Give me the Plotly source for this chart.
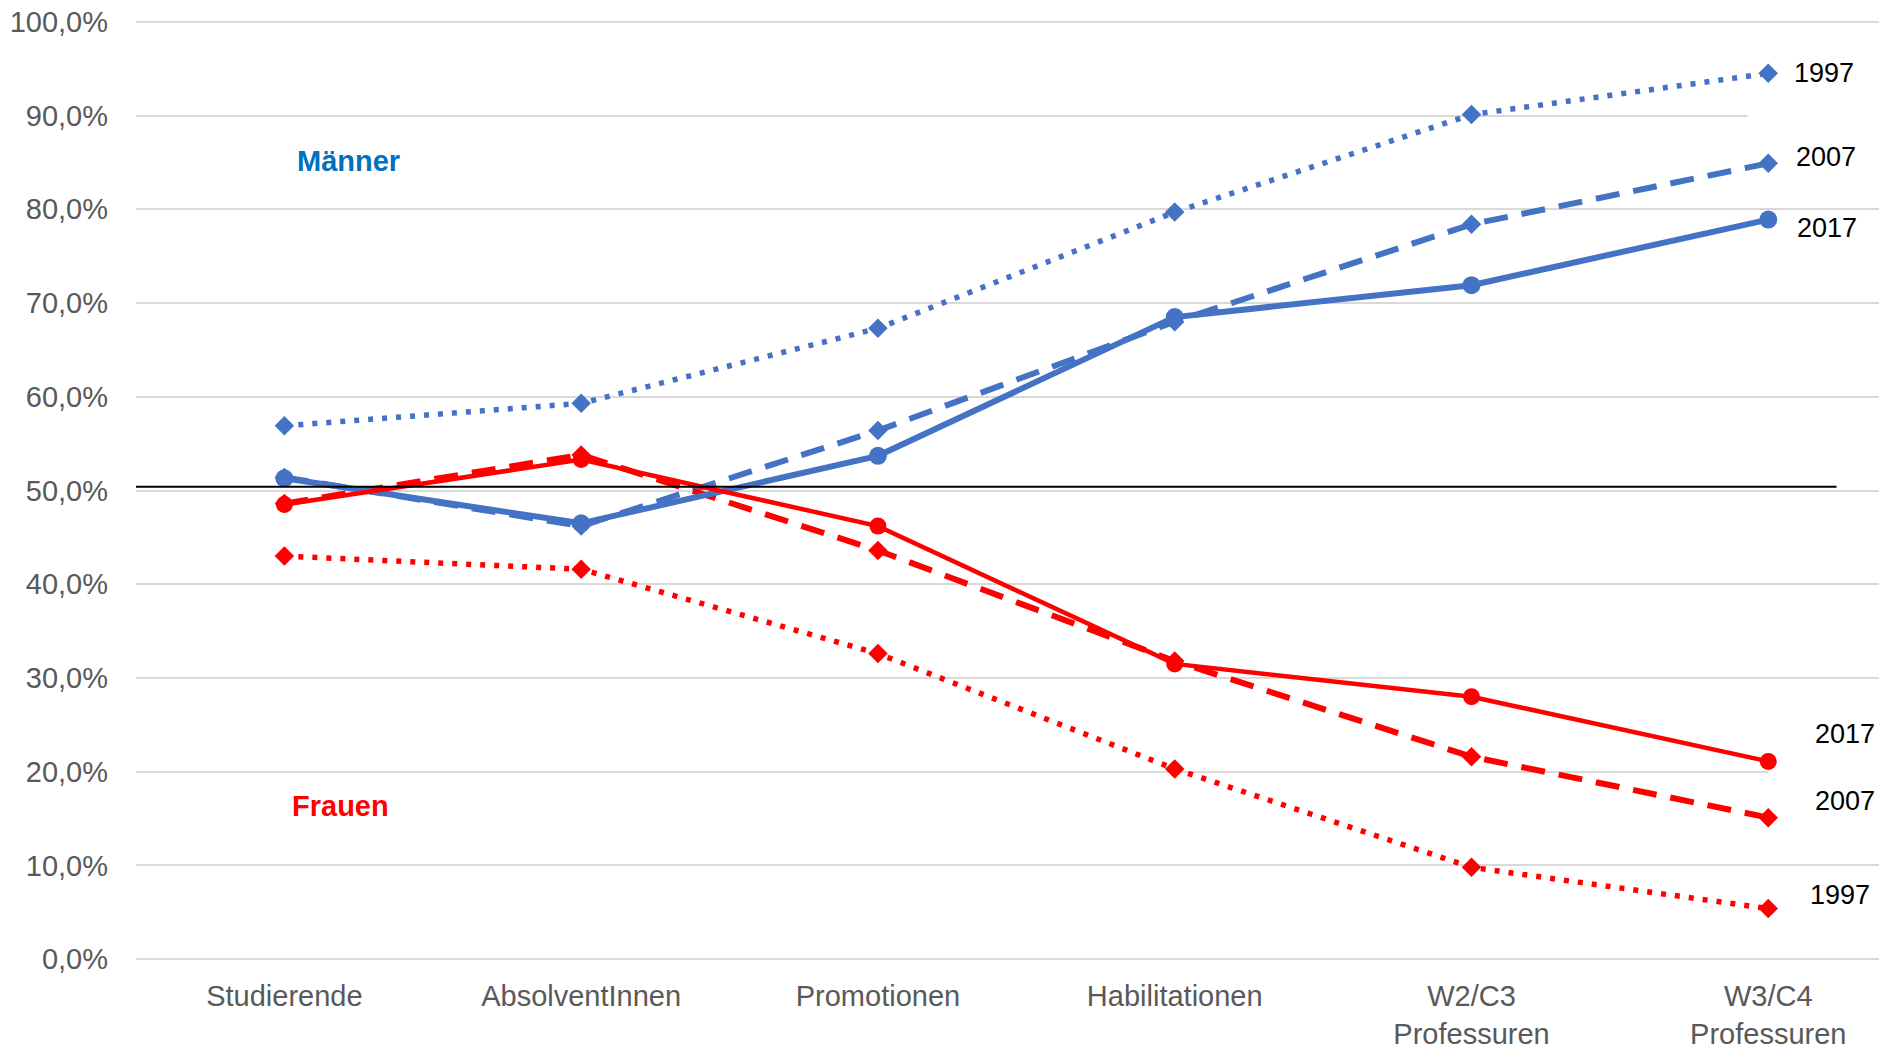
import plotly.graph_objects as go

categories = ["Studierende", "AbsolventInnen", "Promotionen", "Habilitationen",
              "W2/C3<br>Professuren", "W3/C4<br>Professuren"]

maenner_1997 = [56.9, 59.3, 67.3, 79.7, 90.1, 94.5]
maenner_2007 = [51.4, 46.2, 56.4, 68.0, 78.4, 84.9]
maenner_2017 = [51.3, 46.5, 53.7, 68.5, 71.9, 78.9]
frauen_1997 = [43.0, 41.6, 32.6, 20.3, 9.8, 5.4]
frauen_2007 = [48.6, 53.8, 43.6, 31.8, 21.6, 15.1]
frauen_2017 = [48.5, 53.3, 46.2, 31.5, 28.0, 21.1]

y_ticks = [0, 10, 20, 30, 40, 50, 60, 70, 80, 90, 100]
y_ticktext = ["0,0%", "10,0%", "20,0%", "30,0%", "40,0%", "50,0%",
              "60,0%", "70,0%", "80,0%", "90,0%", "100,0%"]
parity_line = 50.4

BLUE = "#4472C4"
RED = "#FF0000"
FONT = "Liberation Sans, Arial, sans-serif"

x = list(range(len(categories)))

fig = go.Figure()

def add(vals, color, dash, width, symbol, msize, name):
    fig.add_trace(go.Scatter(
        x=x, y=vals, mode="lines+markers", name=name,
        line=dict(color=color, width=width, dash=dash),
        marker=dict(color=color, symbol=symbol, size=msize, line=dict(width=0)),
        showlegend=False, hoverinfo="skip"))

add(maenner_1997, BLUE, "5px,9px", 5.5, "diamond", 15, "Männer 1997")
add(frauen_1997, RED, "5px,9px", 5.5, "diamond", 15, "Frauen 1997")
add(maenner_2007, BLUE, "24px,14px", 6, "diamond", 15, "Männer 2007")
add(frauen_2007, RED, "24px,14px", 6, "diamond", 15, "Frauen 2007")
add(maenner_2017, BLUE, "solid", 6, "circle", 18, "Männer 2017")
add(frauen_2017, RED, "solid", 4.5, "circle", 17, "Frauen 2017")

# white boxes behind year labels (cutting gridlines)
fig.add_shape(type="rect", xref="x", yref="y", x0=4.93, x1=5.5, y0=87, y1=98,
              fillcolor="white", line=dict(width=0), layer="between")
fig.add_shape(type="rect", xref="x", yref="y", x0=5.0, x1=5.5, y0=18, y1=27,
              fillcolor="white", line=dict(width=0), layer="between")

# parity line
fig.add_shape(type="line", xref="x", yref="y", x0=-0.5, x1=5.23,
              y0=parity_line, y1=parity_line, line=dict(color="black", width=2))

annos = [
    ("1997", 5.08, 94.5), ("2007", 5.085, 85.6), ("2017", 5.09, 78.0),
    ("2017", 5.15, 24.0), ("2007", 5.15, 16.9), ("1997", 5.135, 6.8),
]
for t, ax, ay in annos:
    fig.add_annotation(x=ax, y=ay, xref="x", yref="y", text=t, showarrow=False,
                       xanchor="left", yanchor="middle",
                       font=dict(family=FONT, size=27, color="black"))

fig.add_annotation(x=0.215, y=85.1, xref="x", yref="y", text="<b>Männer</b>",
                   showarrow=False, font=dict(family=FONT, size=29, color="#0070C0"))
fig.add_annotation(x=0.19, y=16.3, xref="x", yref="y", text="<b>Frauen</b>",
                   showarrow=False, font=dict(family=FONT, size=29, color=RED))

fig.update_layout(
    width=1887, height=1045,
    margin=dict(l=128, r=0, t=11, b=91, autoexpand=False),
    paper_bgcolor="white", plot_bgcolor="white",
    font=dict(family=FONT, color="#595959", size=29),
)
fig.update_xaxes(
    range=[-0.5, 5.427], tickmode="array", tickvals=x, ticktext=categories,
    showgrid=False, zeroline=False, showline=False, ticks="",
    ticklabelstandoff=14, tickfont=dict(family=FONT, size=29, color="#595959"),
    automargin=False, ticklabeloverflow="allow",
)
fig.update_yaxes(
    range=[-0.3, 100.3], tickmode="array", tickvals=y_ticks, ticktext=y_ticktext,
    showgrid=True, gridcolor="#D9D9D9", gridwidth=2, zeroline=False,
    showline=False, ticks="", ticklabelstandoff=27,
    tickfont=dict(family=FONT, size=29, color="#595959"), automargin=False,
    ticklabeloverflow="allow",
)

fig.write_html("out.html")
